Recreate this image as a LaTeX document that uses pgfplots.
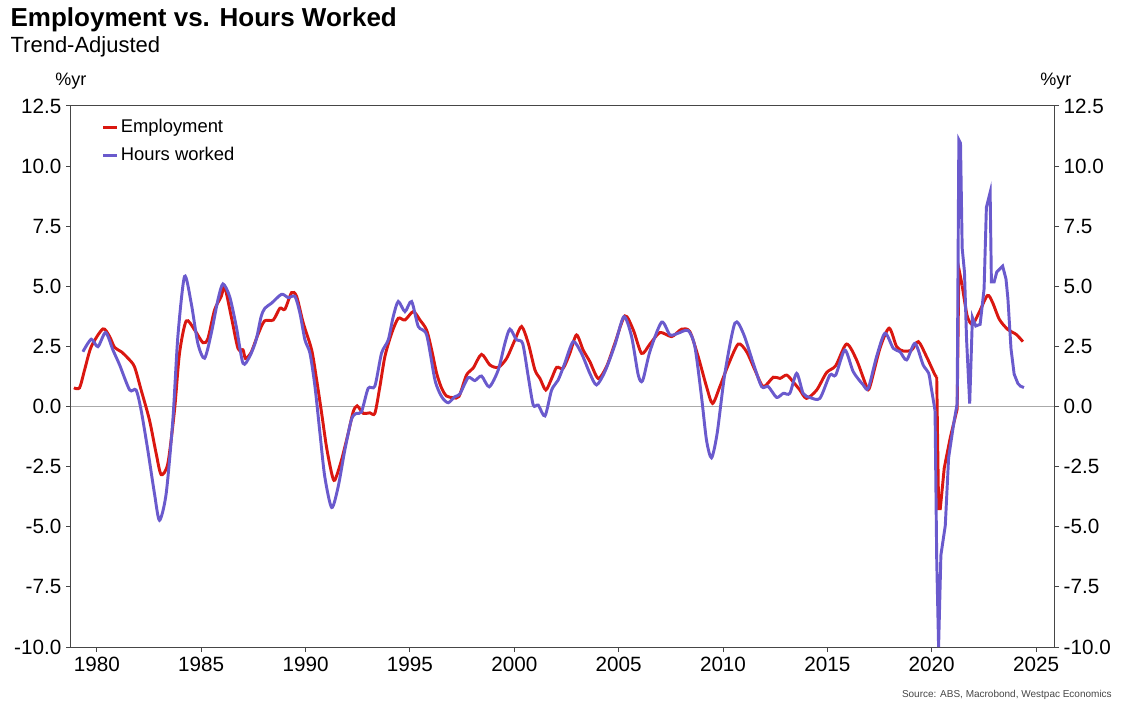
\documentclass[border=0pt]{standalone}
\usepackage{fontspec}
\setmainfont{Liberation Sans}
\usepackage{pgfplots}
\pgfplotsset{compat=1.18}
\definecolor{empred}{RGB}{218,23,16}
\definecolor{hrsblue}{RGB}{106,90,205}
\definecolor{framegray}{RGB}{70,70,70}
\definecolor{zerogray}{RGB}{170,170,170}
\definecolor{srcgray}{RGB}{70,70,70}

\pgfplotsset{
  common/.style={
    scale only axis, width=737.25pt, height=405.75pt,
    at={(0pt,0pt)}, anchor=south west,
    xmin=1978.76, xmax=2025.86, ymin=-10, ymax=12.5,
    ytick={-10,-7.5,-5,-2.5,0,2.5,5,7.5,10,12.5},
    xtick={1980,1985,1990,1995,2000,2005,2010,2015,2020,2025},
    tick align=outside, major tick length=3.75pt,
    tick style={framegray, line width=0.75pt},
    axis line style={framegray, line width=0.75pt},
    ticklabel style={font=\fontsize{15.5}{17}\selectfont},
    /pgf/number format/assume math mode=true,
    y tick label style={/pgf/number format/.cd, fixed, fixed zerofill, precision=1},
    x tick label style={/pgf/number format/.cd, 1000 sep={}},
  }
}

\begin{document}
\begin{tikzpicture}
\useasboundingbox (-53.25pt,-45.75pt) rectangle (789.75pt,485.25pt);

\begin{axis}[common,
  xtick pos=lower, ytick pos=left,
  legend style={draw=none, fill=none, at={(0,1)}, anchor=north west,
    xshift=20pt, yshift=-6.5pt, font=\fontsize{13.8}{15}\selectfont,
    row sep=6.5pt, nodes={inner sep=1.5pt}},
  legend cell align=left,
  legend image code/.code={\draw[#1, line width=2.2pt] (0pt,0pt) -- (10.5pt,0pt);},
]
\addplot[zerogray, line width=1pt, forget plot] coordinates {(1978.76,0) (2025.86,0)};

% Employment, part A (smooth)
\addplot[empred, line width=2.2pt, smooth, tension=0.45, forget plot] coordinates {
(1978.9,0.78) (1979.17,0.78) (1979.41,1.52) (1979.73,2.49) (1980.29,3.23) (1980.61,2.91)
(1980.85,2.46) (1981.17,2.28) (1981.49,2.01) (1981.8,1.66) (1982.12,0.69) (1982.52,-0.56)
(1982.84,-1.95) (1983.08,-2.83) (1983.4,-2.37) (1983.72,-0.15) (1983.96,2.22) (1984.28,3.56)
(1984.68,3.19) (1985.08,2.66) (1985.32,2.83) (1985.64,4.02) (1985.96,4.58) (1986.12,4.99)
(1986.44,3.74) (1986.76,2.42) (1987.0,2.36) (1987.12,2.0) (1987.39,2.25) (1987.71,2.98)
(1988.03,3.56) (1988.45,3.6) (1988.77,4.09) (1989.01,4.05) (1989.33,4.74) (1989.57,4.58)
(1989.89,3.47) (1990.29,2.36) (1990.53,1.11) (1990.77,-0.28) (1991.0,-1.67) (1991.25,-2.78)
(1991.4,-3.06) (1991.72,-2.23) (1992.04,-1.12) (1992.28,-0.22) (1992.47,0.03) (1992.76,-0.28)
(1993.08,-0.26) (1993.32,-0.28) (1993.56,0.83) (1993.8,2.08) (1994.12,3.04) (1994.44,3.67)
(1994.76,3.6) (1995.16,3.95) (1995.48,3.6) (1995.8,3.18) (1996.04,2.36) (1996.28,1.38)
(1996.52,0.76) (1996.75,0.44) (1997.07,0.37) (1997.35,0.42) (1997.71,1.31) (1998.03,1.6)
(1998.43,2.17) (1998.83,1.73) (1999.23,1.63) (1999.63,2.0) (2000.03,2.77) (2000.35,3.33)
(2000.67,2.63) (2000.99,1.52) (2001.23,1.17) (2001.51,0.69) (2001.79,1.17) (2002.03,1.63)
(2002.34,1.59) (2002.66,2.21) (2002.98,2.98) (2003.3,2.35) (2003.62,1.87) (2004.02,1.17)
(2004.42,1.66) (2004.82,2.63) (2005.3,3.77) (2005.7,3.19) (2006.1,2.21) (2006.5,2.6)
(2006.98,3.08) (2007.54,2.91) (2008.02,3.22) (2008.41,3.12) (2008.81,2.08) (2009.21,0.83)
(2009.5,0.13) (2009.85,0.83) (2010.25,1.73) (2010.73,2.6) (2011.13,2.28) (2011.53,1.52)
(2011.93,0.83) (2012.41,1.22) (2012.73,1.17) (2013.05,1.31) (2013.36,1.03) (2013.68,0.69)
(2014.0,0.34) (2014.49,0.69) (2014.96,1.41) (2015.4,1.7) (2015.92,2.6) (2016.4,1.94)
(2016.88,0.83) (2017.04,0.83) (2017.52,2.42) (2017.96,3.26) (2018.32,2.49) (2018.64,2.31)
(2019.04,2.35) (2019.36,2.7) (2019.75,2.08) (2020.16,1.31) (2020.24,1.24)
};
% Employment, part B (COVID, sharp)
\addplot[empred, line width=2.2pt, forget plot] coordinates {
(2020.24,1.24) (2020.33,-4.25) (2020.41,-4.25) (2020.49,-3.55) (2020.6,-2.56) (2020.89,-1.29)
(2021.22,-0.1) (2021.3,5.74) (2021.46,5.04)
};
% Employment, part C (smooth)
\addplot[empred, line width=2.2pt, smooth, tension=0.45, forget plot] coordinates {
(2021.46,5.04) (2021.7,3.77) (2021.95,3.42) (2022.27,3.91) (2022.67,4.62) (2022.91,4.34)
(2023.24,3.63) (2023.64,3.21) (2024.05,3.0) (2024.37,2.7)
};

% Hours worked, part A (smooth)
\addplot[hrsblue, line width=2.2pt, smooth, tension=0.45, forget plot] coordinates {
(1979.33,2.28) (1979.73,2.8) (1980.05,2.49) (1980.42,3.08) (1980.77,2.35) (1981.09,1.73)
(1981.57,0.69) (1981.88,0.69) (1982.12,-0.15) (1982.44,-1.81) (1982.76,-3.62) (1983.0,-4.73)
(1983.32,-3.62) (1983.64,-0.56) (1983.88,2.91) (1984.2,5.41) (1984.52,4.3) (1984.84,2.62)
(1985.16,2.01) (1985.48,3.04) (1985.8,4.44) (1986.04,5.1) (1986.36,4.58) (1986.68,3.33)
(1987.0,1.8) (1987.32,2.08) (1987.63,2.77) (1987.87,3.74) (1988.05,4.09) (1988.37,4.3)
(1988.85,4.67) (1989.17,4.53) (1989.49,4.58) (1989.73,3.88) (1989.97,2.77) (1990.21,2.22)
(1990.45,0.83) (1990.69,-1.12) (1990.92,-2.92) (1991.25,-4.2) (1991.56,-3.34) (1991.88,-1.81)
(1992.2,-0.53) (1992.44,-0.28) (1992.68,-0.22) (1993.0,0.76) (1993.32,0.85) (1993.64,2.22)
(1993.96,2.77) (1994.2,3.74) (1994.44,4.37) (1994.76,3.95) (1995.08,4.37) (1995.4,3.33)
(1995.8,2.98) (1996.2,1.1) (1996.52,0.41) (1996.83,0.16) (1997.15,0.41) (1997.39,0.52)
(1997.79,1.2) (1998.11,1.08) (1998.43,1.27) (1998.8,0.82) (1999.23,1.52) (1999.55,2.63)
(1999.79,3.22) (2000.11,2.77) (2000.4,2.63) (2000.67,1.24) (2000.91,0.06) (2001.15,0.06)
(2001.47,-0.39) (2001.79,0.69) (2002.1,1.1) (2002.42,1.8) (2002.82,2.7) (2003.22,2.21)
(2003.62,1.38) (2003.94,0.9) (2004.34,1.45) (2004.82,2.56) (2005.25,3.74) (2005.62,2.91)
(2005.94,1.31) (2006.15,1.08) (2006.5,2.3) (2007.06,3.51) (2007.46,2.98) (2007.85,3.05)
(2008.33,3.16) (2008.65,2.5) (2008.97,0.41) (2009.21,-1.4) (2009.45,-2.13) (2009.72,-1.11)
(2010.09,1.38) (2010.57,3.47) (2010.97,3.05) (2011.45,1.8) (2011.85,0.83) (2012.17,0.83)
(2012.57,0.38) (2012.89,0.55) (2013.2,0.55) (2013.53,1.38) (2013.84,0.55) (2014.16,0.38)
(2014.64,0.34) (2015.12,1.31) (2015.4,1.31) (2015.84,2.35) (2016.24,1.45) (2016.72,0.9)
(2016.96,0.76) (2017.36,2.08) (2017.76,3.05) (2018.16,2.42) (2018.48,2.28) (2018.8,1.94)
(2019.2,2.63) (2019.59,1.73) (2019.85,1.4) (2019.97,0.82) (2020.16,-0.17)
};
% Hours worked, part B (COVID and after, sharp)
\addplot[hrsblue, line width=2.2pt, forget plot] coordinates {
(2020.16,-0.17) (2020.24,-6.36) (2020.33,-10.0) (2020.44,-6.18) (2020.65,-4.95) (2020.81,-2.13)
(2021.05,-0.73) (2021.22,0.12) (2021.3,11.09) (2021.38,10.95) (2021.46,6.59) (2021.57,5.6)
(2021.67,2.8) (2021.82,0.12) (2021.95,3.71) (2022.11,3.35) (2022.32,3.42) (2022.51,4.9)
(2022.62,8.28) (2022.8,8.91) (2022.86,5.18) (2022.99,5.18) (2023.12,5.6) (2023.4,5.84)
(2023.56,5.3) (2023.65,4.5) (2023.8,2.4) (2023.95,1.35) (2024.13,0.96) (2024.25,0.85) (2024.42,0.79)
};

\addlegendimage{empred}
\addlegendentry{Employment}
\addlegendimage{hrsblue}
\addlegendentry{Hours worked}
\end{axis}

\begin{axis}[common,
  axis y line*=right, axis x line=none,
  ytick pos=right, yticklabel pos=right,
]
\addplot[draw=none] coordinates {(2000,0)};
\end{axis}

\node[anchor=base west, font=\bfseries\fontsize{19.5}{21}\selectfont, inner sep=0pt] at (-45.5pt,465pt) {Employment vs. Hours Worked};
\node[anchor=base west, font=\fontsize{16.5}{18}\selectfont, inner sep=0pt] at (-45.5pt,445.5pt) {Trend-Adjusted};
\node[anchor=base west, font=\fontsize{13.5}{15}\selectfont, inner sep=0pt] at (-12pt,420.75pt) {\%yr};
\node[anchor=base west, font=\fontsize{13.5}{15}\selectfont, inner sep=0pt] at (726.75pt,420.75pt) {\%yr};
\node[anchor=base east, font=\fontsize{7.5}{9}\selectfont, text=srcgray, inner sep=0pt] at (780.75pt,-37.5pt) {Source: ABS, Macrobond, Westpac Economics};
\end{tikzpicture}
\end{document}
